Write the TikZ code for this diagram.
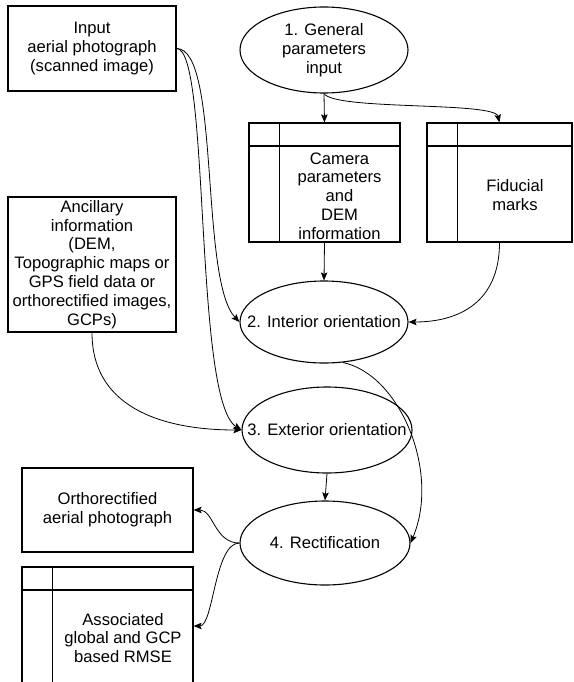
\documentclass[tikz,border=0pt]{standalone}
\usepackage{fontspec}
\setmainfont{Liberation Sans}
\usepackage{tikz}
\usetikzlibrary{arrows,arrows.meta,shapes.geometric}
\tikzstyle{box}   = [draw,rectangle,line width=1.2pt,align=center,inner sep=0pt]
\tikzstyle{proc}  = [draw,ellipse,line width=1.1pt,align=center,inner sep=-20pt]
\tikzstyle{store} = [draw,rectangle,line width=1.2pt,inner sep=0pt]
\tikzstyle{txt}   = [align=center,inner sep=0pt]
\newcommand{\storelines}[1]{%
  \draw[-,line width=1.2pt] ([xshift=31pt]#1.north west) -- ([xshift=31pt]#1.south west);
  \draw[-,line width=1.2pt] ([yshift=-23.5pt]#1.north west) -- ([yshift=-23.5pt]#1.north east);}

\begin{document}
\begin{tikzpicture}[->,>={Stealth[length=8pt,width=6.5pt,inset=1.5pt]},line width=0.8pt,x=1pt,y=-1pt,
                    font=\fontsize{16.6}{18.8}\selectfont]
\useasboundingbox (0,0) rectangle (573,682);

\node[box,minimum width=168,minimum height=85]  (inp)  at (92,48.5)   {Input\\aerial photograph\\(scanned image)};
\node[proc,minimum width=168,minimum height=86] (gen)  at (324,50)    {1. General\\parameters\\input};
\node[store,minimum width=151,minimum height=119] (cam) at (324.5,182.5) {};
\node[txt] (camtxt) at (339.5,196) {Camera\\parameters\\and\\DEM\\information};
\node[store,minimum width=145,minimum height=119] (fid) at (499.5,182.5) {};
\node[txt] (fidtxt) at (515,195) {Fiducial\\marks};
\node[box,minimum width=168,minimum height=135] (anc) at (92,264.5)
  {Ancillary\\information\\(DEM,\\Topographic maps or\\GPS field data or\\orthorectified images,\\GCPs)};
\node[proc,minimum width=168,minimum height=82] (int)  at (324,322)   {2. Interior orientation};
\node[proc,minimum width=170,minimum height=86] (ext)  at (327,430)   {3. Exterior orientation};
\node[proc,minimum width=170,minimum height=84] (rect) at (325,543)   {4. Rectification};
\node[box,minimum width=171,minimum height=84]  (ort)  at (107.5,510) {Orthorectified\\aerial photograph};
\node[store,minimum width=171,minimum height=118] (rms) at (107.5,626) {};
\node[txt] (rmstxt) at (123,638) {Associated\\global and GCP\\based RMSE};

\storelines{cam}
\storelines{fid}
\storelines{rms}

\path
    (gen.south) edge (cam.north)
    (cam.south) edge (int.north)
    (ext.south) edge (rect.north);

\draw (gen.south) .. controls +(11,17) and +(-5,-21) .. (fid.north);
\draw (inp.east) .. controls +(44,0) and +(-40,-42) .. (int.west);
\draw (inp.east) .. controls +(34,0) and +(-48,-30) .. (ext.west);
\draw (anc.south) .. controls +(0,80) and +(-70,0) .. (ext.west);
\draw (fid.south) .. controls +(0,60) and +(50,0) .. (int.east);
\draw (int.-65) .. controls +(57,12) and +(30,-71) .. (rect.east);
\draw (rect.west) .. controls +(-25,0) and +(20,0) .. (ort.east);
\draw (rect.west) .. controls +(-25,0) and +(20,0) .. (rms.east);

\end{tikzpicture}
\end{document}
